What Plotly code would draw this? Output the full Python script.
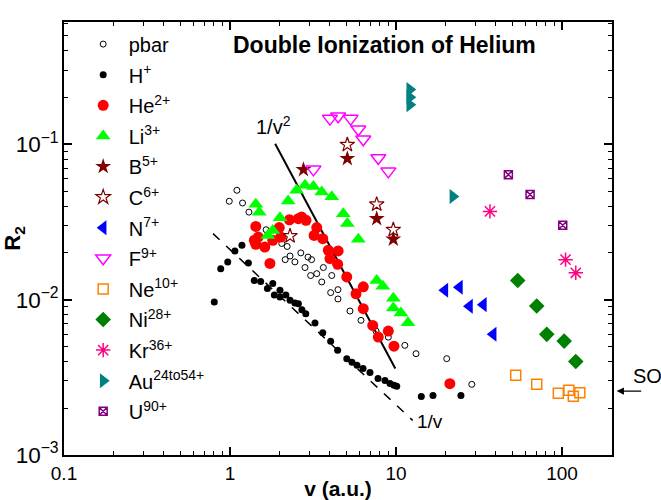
import plotly.graph_objects as go

# ---------------- data ----------------
pbar_v = [1.10, 0.99, 1.19, 1.30, 1.65, 2.05, 2.21, 2.30, 2.67, 2.95, 3.10, 2.15, 2.46, 2.83, 3.65,
          3.06, 3.33, 3.57, 4.10, 4.04, 4.47, 4.47, 5.28, 6.15, 7.58, 8.99, 11.3, 13.2, 20.2, 28.6]
pbar_R = [0.0506, 0.0430, 0.0419, 0.0366, 0.0282, 0.0230, 0.0220, 0.0191, 0.0200, 0.0188, 0.0181, 0.0181,
          0.0175, 0.0161, 0.0161, 0.0143, 0.0147, 0.0130, 0.0143, 0.0111, 0.0116, 0.0101, 0.00845, 0.00736,
          0.00628, 0.00574, 0.00508, 0.00449, 0.00417, 0.00285]

H_v = [0.804, 0.879, 0.969, 1.07, 1.18, 1.29, 1.40, 1.53, 1.68, 1.81, 1.85, 2.00, 2.00, 2.17, 2.30, 2.46,
       2.58, 2.71, 2.86, 3.25, 3.62, 4.04, 4.45, 5.05, 5.43, 5.82, 6.33, 6.97, 7.79, 8.58, 9.20, 9.72,
       10.1, 14.2, 16.7, 24.6]
H_R = [0.00965, 0.0158, 0.0175, 0.0206, 0.0224, 0.0172, 0.0133, 0.0131, 0.0118, 0.0127, 0.0107, 0.0115,
       0.0104, 0.0107, 0.0099, 0.0095, 0.0094, 0.00862, 0.00813, 0.00707, 0.00613, 0.00539, 0.00472,
       0.00417, 0.00395, 0.00378, 0.00361, 0.00340, 0.00311, 0.00302, 0.00289, 0.00281, 0.00277,
       0.00238, 0.00242, 0.00242]

He_v = [1.43, 1.48, 1.40, 1.43, 1.62, 1.74, 1.98, 2.02, 2.28, 2.58, 2.70, 2.87, 3.33, 3.21, 3.62, 3.91,
        4.00, 4.45, 4.48, 5.05, 5.74, 6.35, 6.35, 7.24, 7.82, 8.99, 9.72, 21.1, 1.81]
He_R = [0.0296, 0.0253, 0.0241, 0.0227, 0.0218, 0.0171, 0.0291, 0.0253, 0.0327, 0.0332, 0.0340, 0.0324,
        0.0291, 0.0259, 0.0247, 0.0208, 0.0184, 0.0169, 0.0206, 0.0140, 0.0109, 0.0121, 0.00875, 0.00683,
        0.00574, 0.00628, 0.00502, 0.00288, 0.0241]

Li_v = [1.43, 1.50, 2.00, 2.24, 2.52, 2.83, 3.18, 3.57, 4.10, 1.69, 1.81, 4.81, 5.09, 5.93, 7.65, 8.32,
        9.63, 9.63, 10.7, 11.8]
Li_R = [0.0411, 0.0366, 0.0337, 0.0431, 0.0506, 0.0545, 0.0536, 0.0493, 0.0459, 0.0259, 0.0279, 0.0358,
        0.0309, 0.0245, 0.0133, 0.0122, 0.0102, 0.00883, 0.00820, 0.00711]

B_v = [2.77, 5.09, 7.65, 9.63]
B_R = [0.0687, 0.0809, 0.0332, 0.0245]

C_v = [2.30, 5.09, 7.65, 9.63]
C_R = [0.0257, 0.0995, 0.0411, 0.0282]

N_v = [19.7, 24.1, 27.7, 33.6, 38.5]
N_R = [0.0115, 0.0120, 0.00906, 0.00929, 0.00598]

F_v = [3.18, 4.00, 4.48, 5.33, 5.93, 6.35, 7.82, 8.99]
F_R = [0.0690, 0.1464, 0.1515, 0.1464, 0.1249, 0.1077, 0.0816, 0.0670]

Ne_v = [52.6, 70.4, 95.0, 110, 117, 128]
Ne_R = [0.00326, 0.00285, 0.00250, 0.00261, 0.00239, 0.00252]

Ni_v = [54.1, 70.4, 80.9, 103, 121]
Ni_R = [0.0133, 0.00910, 0.00598, 0.00541, 0.00400]

Kr_v = [36.8, 105, 121]
Kr_R = [0.0370, 0.0181, 0.0149]

Au_v = [12.1, 12.1, 12.1, 22.0]
Au_R = [0.225, 0.201, 0.180, 0.0462]

U_v = [47.5, 64.2, 101]
U_R = [0.0638, 0.0476, 0.0301]

# guide lines (end points)
inv_v2_v = [1.87, 9.9]
inv_v2_R = [0.101, 0.0036]
inv_v_v = [0.79, 12.6]
inv_v_R = [0.0266, 0.00167]

SO_value = 0.00258

FONT = "Arial, Liberation Sans"
NB = "\u00a0"

# ---------------- figure ----------------
fig = go.Figure()

series = [
    ("pbar", pbar_v, pbar_R, dict(symbol="circle-open", size=6, color="black", line=dict(width=1, color="black"))),
    ("H<sup>+</sup>", H_v, H_R, dict(symbol="circle", size=7, color="black")),
    ("He<sup>2+</sup>", He_v, He_R, dict(symbol="circle", size=11, color="#FF0000")),
    ("Li<sup>3+</sup>", Li_v, Li_R, dict(symbol="triangle-up", size=13, color="#00FF00")),
    ("B<sup>5+</sup>", B_v, B_R, dict(symbol="star", size=12, color="#800000")),
    ("C<sup>6+</sup>", C_v, C_R, dict(symbol="star-open", size=11, color="#800000", line=dict(width=1.2, color="#800000"))),
    ("N<sup>7+</sup>", N_v, N_R, dict(symbol="triangle-left", size=13, color="#0000FF")),
    ("F<sup>9+</sup>", F_v, F_R, dict(symbol="triangle-down-open", size=13, color="#FF00FF", line=dict(width=1.5, color="#FF00FF"))),
    ("Ne<sup>10+</sup>", Ne_v, Ne_R, dict(symbol="square-open", size=10, color="#FF8000", line=dict(width=1.5, color="#FF8000"))),
    ("Ni<sup>28+</sup>", Ni_v, Ni_R, dict(symbol="diamond", size=12, color="#008000")),
    ("Kr<sup>36+</sup>", Kr_v, Kr_R, dict(symbol="asterisk-open", size=12, color="#FF0080", line=dict(width=1.5, color="#FF0080"))),
    ("Au<sup>24to54+</sup>", Au_v, Au_R, dict(symbol="triangle-right", size=13, color="#008080")),
    ("U<sup>90+</sup>", U_v, U_R, dict(symbol="square-x-open", size=8, color="#800080", line=dict(width=1.5, color="#800080"))),
]

fig.add_trace(go.Scatter(x=inv_v2_v, y=inv_v2_R, mode="lines", line=dict(color="black", width=2),
                         showlegend=False, hoverinfo="skip"))
fig.add_trace(go.Scatter(x=inv_v_v, y=inv_v_R, mode="lines", line=dict(color="black", width=1.5, dash="dash"),
                         showlegend=False, hoverinfo="skip"))

for i, (name, xv, yv, mk) in enumerate(series):
    fig.add_trace(go.Scatter(x=xv, y=yv, mode="markers", name=NB + name, marker=mk,
                             legendgroup=f"g{i}"))

axis_common = dict(
    type="log", showline=True, linecolor="black", linewidth=1.5, mirror="ticks",
    ticks="inside", ticklen=8, tickwidth=1.5, tickcolor="black",
    showgrid=False, zeroline=False, automargin=False,
    minor=dict(ticks="inside", ticklen=4, tickwidth=1.2, tickcolor="black", dtick="D1", showgrid=False),
)

fig.update_xaxes(**axis_common, range=[-1, 2.30103], dtick=1, exponentformat="none",
                 tickfont=dict(family=FONT, size=19, color="black"),
                 title=dict(text="<b>v (a.u.)</b>", font=dict(family=FONT, size=21, color="black")))
fig.update_yaxes(**axis_common, range=[-3, -0.2125], dtick=1, exponentformat="power",
                 tickfont=dict(family=FONT, size=18, color="black"),
                 title=dict(text="<b>R<sub>2</sub></b>", font=dict(family=FONT, size=22, color="black")))

fig.add_annotation(x=0.584, y=0.946, xref="paper", yref="paper", text="<b>Double Ionization of Helium</b>",
                   showarrow=False, xanchor="center", yanchor="middle",
                   font=dict(family=FONT, size=23, color="black"))
fig.add_annotation(x=0.382, y=0.76, xref="paper", yref="paper", text="1/v<sup>2</sup>",
                   showarrow=False, xanchor="center", yanchor="middle",
                   font=dict(family=FONT, size=20, color="black"))
fig.add_annotation(x=0.668, y=0.078, xref="paper", yref="paper", text="1/v",
                   showarrow=False, xanchor="center", yanchor="middle",
                   font=dict(family=FONT, size=19, color="black"))
# SO arrow
fig.add_annotation(x=1.0086, y=-2.5885, xref="paper", yref="y", text="", showarrow=True,
                   ax=26, ay=0, arrowhead=2, arrowsize=1.2, arrowwidth=1.2, arrowcolor="black")
fig.add_annotation(x=1.065, y=-2.49, xref="paper", yref="y", text="SO", showarrow=False,
                   xanchor="center", yanchor="middle", font=dict(family=FONT, size=20, color="black"))

fig.update_layout(
    width=661, height=500,
    margin=dict(l=64, r=49, t=22, b=45),
    paper_bgcolor="white", plot_bgcolor="white",
    legend=dict(x=0.035, y=0.994, xanchor="left", yanchor="top", bgcolor="rgba(0,0,0,0)",
                font=dict(family=FONT, size=20, color="black"),
                tracegroupgap=1.6, traceorder="grouped"),
    showlegend=True,
)

fig.write_html("out.html")
